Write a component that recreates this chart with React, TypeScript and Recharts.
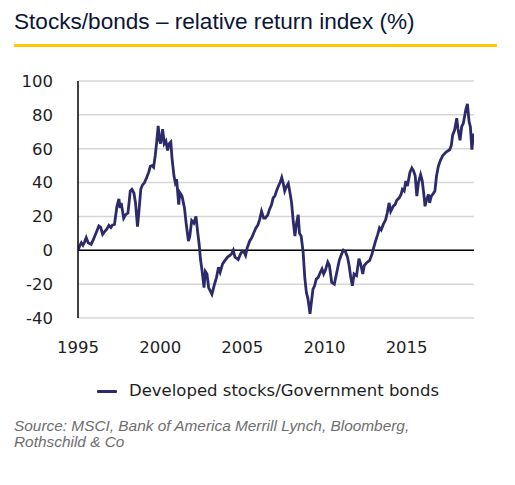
import { LineChart, Line, XAxis, YAxis, CartesianGrid, ReferenceLine } from "recharts";

// decimal years
const dates = [
  1995.0, 1995.12, 1995.2, 1995.3, 1995.4, 1995.5, 1995.62, 1995.8, 1995.92, 1996.05,
  1996.27, 1996.38, 1996.5, 1996.62, 1996.75, 1996.88, 1997.0, 1997.1, 1997.22, 1997.3,
  1997.37, 1997.49, 1997.56, 1997.63, 1997.78, 1997.9, 1998.04, 1998.18, 1998.28, 1998.4,
  1998.5, 1998.62, 1998.7, 1998.82, 1998.92, 1999.05, 1999.18, 1999.3, 1999.4, 1999.5,
  1999.6, 1999.7, 1999.78, 1999.88, 1999.96, 2000.03, 2000.15, 2000.25, 2000.35, 2000.45,
  2000.55, 2000.65, 2000.72, 2000.84, 2000.92, 2001.0, 2001.13, 2001.2, 2001.33, 2001.48,
  2001.58, 2001.72, 2001.8, 2001.92, 2002.05, 2002.18, 2002.28, 2002.38, 2002.45, 2002.55,
  2002.67, 2002.75, 2002.85, 2002.95, 2003.15, 2003.28, 2003.43, 2003.55, 2003.65, 2003.8,
  2003.95, 2004.1, 2004.25, 2004.35, 2004.45, 2004.55, 2004.75, 2004.9, 2005.0, 2005.1,
  2005.2, 2005.3, 2005.45, 2005.58, 2005.7, 2005.82, 2005.95, 2006.05, 2006.17, 2006.3,
  2006.4, 2006.55, 2006.65, 2006.78, 2006.88, 2006.98, 2007.08, 2007.2, 2007.3, 2007.4,
  2007.48, 2007.58, 2007.68, 2007.8, 2007.9, 2008.0, 2008.1, 2008.2, 2008.3, 2008.4,
  2008.48, 2008.58, 2008.7, 2008.8, 2008.9, 2009.0, 2009.12, 2009.2, 2009.3, 2009.4,
  2009.5, 2009.62, 2009.75, 2009.85, 2009.95, 2010.05, 2010.2, 2010.3, 2010.44, 2010.6,
  2010.75, 2010.9, 2011.05, 2011.15, 2011.28, 2011.4, 2011.5, 2011.6, 2011.7, 2011.8,
  2011.95, 2012.1, 2012.2, 2012.33, 2012.42, 2012.55, 2012.75, 2012.9, 2012.98, 2013.08,
  2013.24, 2013.35, 2013.45, 2013.58, 2013.72, 2013.82, 2013.93, 2014.03, 2014.18, 2014.3,
  2014.4, 2014.55, 2014.66, 2014.74, 2014.85, 2014.95, 2015.05, 2015.2, 2015.32, 2015.42,
  2015.52, 2015.62, 2015.72, 2015.85, 2015.95, 2016.07, 2016.12, 2016.22, 2016.33, 2016.4,
  2016.5, 2016.62, 2016.72, 2016.82, 2016.93, 2017.05, 2017.2, 2017.4, 2017.62, 2017.72,
  2017.8, 2017.92, 2018.05, 2018.12, 2018.25, 2018.35, 2018.45, 2018.6, 2018.7, 2018.8,
  2018.88, 2018.97, 2019.07,
];

const relativeReturn = [
  0, 3, 4.5, 3, 5, 7.5, 4.5, 3.5, 6, 9,
  14.3, 13.5, 9.4, 11, 12.5, 14.7, 13.5, 15, 15.3, 21,
  26, 30.4, 25, 28, 19, 21, 22, 35, 36, 34,
  28, 14, 22, 36, 38.5, 40, 43, 46, 49.6, 50,
  49, 56, 63, 73.5, 65, 63, 71.5, 63, 64.5, 59,
  63, 64, 54.5, 44, 40, 42, 27, 34, 32, 25,
  16, 5.5, 8, 17.5, 16, 20, 11, 3, -5, -12,
  -22, -12.5, -14, -22, -26, -21, -16, -10, -13, -8,
  -6, -4, -3, -2, 0, -4, -5.5, -2, -0.5, -1,
  -3, 1.5, 5.5, 7.5, 10.4, 13, 15, 18, 23, 19,
  19, 21, 24, 27, 31, 32, 35, 38, 40, 43,
  40, 35, 37.5, 39.5, 34, 28, 17, 8.4, 16, 21,
  10, 8.4, -1, -16, -25, -29, -37.6, -31, -23, -21,
  -17, -16, -13, -11, -14, -12, -7, -9, -19, -20,
  -13, -6, -2, 0, -1, -4, -9, -16, -21, -14,
  -15, -5, -8, -14, -9, -7.5, -6, -2, 1, 4.5,
  9.4, 13.3, 12, 15.3, 18, 22, 28, 23, 26, 27,
  29.5, 31, 33, 36, 35, 41, 38, 46, 48.6, 47,
  44, 32, 40, 44.7, 41, 31, 26, 30, 33, 28,
  32, 33.5, 35, 44, 49.6, 53, 56, 58, 59.4, 62,
  68, 71, 78, 72, 65, 73, 75, 83, 86.5, 76,
  73, 59.4, 69,
];

const yearTicks = [1995, 2000, 2005, 2010, 2015];
const valueTicks = [-40, -20, 0, 20, 40, 60, 80, 100];

const data = dates.map((date, i) => ({ date, value: relativeReturn[i] }));

const tickStyle = { fontSize: 16.5, fontFamily: "DejaVu Sans", fill: "#1e1e1e" };

export default function App() {
  return (
    <div style={{ position: "absolute", left: 0, top: 0, width: 515, height: 485, background: "#fff" }}>
      <div
        style={{
          position: "absolute",
          left: 14,
          top: 11,
          fontFamily: "Liberation Sans",
          fontSize: 22.6,
          lineHeight: 1,
          color: "#0c1538",
          whiteSpace: "nowrap",
        }}
      >
        Stocks/bonds – relative return index (%)
      </div>
      <div style={{ position: "absolute", left: 14, top: 44, width: 483, height: 3, background: "#FFC800" }} />

      <div style={{ position: "absolute", left: 0, top: 0 }}>
        <LineChart width={515} height={370} data={data} margin={{ top: 81, right: 41, left: 0, bottom: 0 }}>
          <CartesianGrid vertical={false} stroke="#d6d6d6" strokeWidth={1.5} />
          <XAxis
            dataKey="date"
            type="number"
            domain={[1995, 2019.1]}
            ticks={yearTicks}
            allowDataOverflow
            axisLine={false}
            tickLine={false}
            tickSize={0}
            tickMargin={23}
            height={52}
            tick={tickStyle}
          />
          <YAxis
            domain={[-40, 100]}
            ticks={valueTicks}
            allowDataOverflow
            width={78}
            axisLine={{ stroke: "#000", strokeWidth: 1.5 }}
            tickLine={false}
            tickSize={0}
            tickMargin={25}
            tick={tickStyle}
          />
          <ReferenceLine y={0} stroke="#000" strokeWidth={1.5} />
          <Line
            type="linear"
            dataKey="value"
            stroke="#2c2a6a"
            strokeWidth={2.8}
            dot={false}
            isAnimationActive={false}
          />
        </LineChart>
      </div>

      <div style={{ position: "absolute", left: 97, top: 389.5, width: 20, height: 3, background: "#2c2a6a", borderRadius: 1 }} />
      <div
        style={{
          position: "absolute",
          left: 129,
          top: 382.5,
          fontFamily: "DejaVu Sans",
          fontSize: 16.5,
          lineHeight: 1,
          color: "#1e1e1e",
          whiteSpace: "nowrap",
        }}
      >
        Developed stocks/Government bonds
      </div>

      <div
        style={{
          position: "absolute",
          left: 14,
          top: 417.5,
          fontFamily: "Liberation Sans",
          fontStyle: "italic",
          fontSize: 15.4,
          lineHeight: "16.3px",
          color: "#6e6e6e",
          whiteSpace: "nowrap",
        }}
      >
        Source: MSCI, Bank of America Merrill Lynch, Bloomberg,
        <br />
        Rothschild &amp; Co
      </div>
    </div>
  );
}
